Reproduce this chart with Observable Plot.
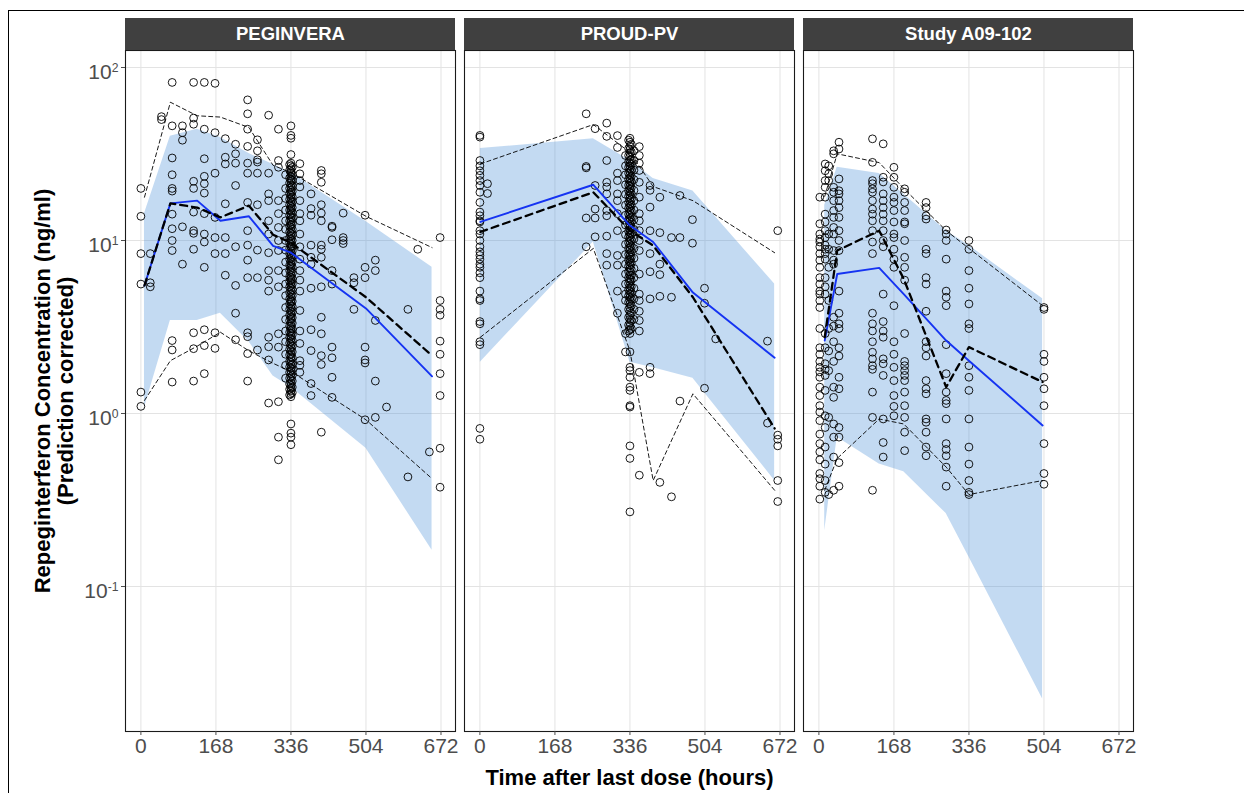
<!DOCTYPE html>
<html>
<head>
<meta charset="utf-8">
<script src="https://cdn.jsdelivr.net/npm/d3@7"></script>
<script src="https://cdn.jsdelivr.net/npm/@observablehq/plot@0.6"></script>
<style>
  html, body { margin: 0; padding: 0; background: white; overflow: hidden; }
  #outer { position: absolute; left: 8px; top: 10px; width: 1400px; height: 1000px; border: 1px solid #000; z-index: 2; pointer-events: none; }
  #chart { position: absolute; left: 0; top: 0; z-index: 1; }
</style>
</head>
<body>
<div id="outer"></div>
<div id="chart"></div>
<script>
// ---------------- DATA ----------------
const studies = ["PEGINVERA", "PROUD-PV", "Study A09-102"];
const xTicks = [0, 168, 336, 504, 672];
const yTicks = [0.1, 1, 10, 100];
const yTitle = "Repeginterferon Concentration (ng/ml)\n(Prediction corrected)";
const xTitle = "Time after last dose (hours)";

// observed (prediction-corrected) concentrations, grouped by time (h)
const obsPEG = [
  [0, [20, 13.8, 8.4, 5.6, 1.33, 1.1]],
  [21, [8.4, 5.7, 5.4]],
  [46, [52, 50]],
  [70, [82, 46, 30, 24, 20, 19.3, 14.2, 11.7, 10, 8.75, 2.64, 2.33, 1.52]],
  [93, [46, 42, 38, 12, 7.3]],
  [118, [82, 51, 47, 22, 20, 14.6, 11.4, 11.0, 8.9, 2.93, 2.37, 1.54]],
  [142, [82, 44, 29.7, 23.5, 21.3, 18.8, 14.3, 10.9, 9.8, 7.0, 3.05, 2.47, 1.7]],
  [166, [81, 42, 24.5, 13.6, 10.4, 8.4, 2.93, 2.38]],
  [189, [38.8, 30.3, 27.7, 16.3, 10.4, 8.4, 6.3]],
  [212, [36, 31.7, 28, 20.8, 9.2, 5.5, 3.8, 2.67]],
  [239, [65, 54, 44, 35, 28, 24.5, 16.6, 11.4, 9.4, 7.7, 6.1, 2.93, 2.78, 2.22, 1.54]],
  [261, [38.2, 33, 29.3, 28.4, 24.5, 16.1, 8.8, 6.1, 2.33]],
  [286, [53, 24.5, 18.6, 17, 13, 10.9, 8.5, 6.7, 5.9, 5.1, 2.76, 2.43, 2.04, 1.15]],
  [308, [44, 29, 26.5, 17, 14.3, 11.9, 10, 8.75, 6.7, 5.4, 2.89, 2.42, 1.17, 0.73, 0.54]],
  [324, [24, 20, 17.5, 15, 13, 11.6, 10, 8.8, 7.5, 6.5, 5.6, 4.8, 4.1, 3.5, 3.0, 2.6, 2.2, 1.9, 1.6]],
  [333, [27.5, 25.5, 23, 21.5, 20, 18.6, 17.3, 16.1, 15, 14, 13, 12.1, 11.2, 10.4, 9.7, 9.0, 8.4, 7.8, 7.2,
         6.7, 6.2, 5.8, 5.4, 5.0, 4.6, 4.3, 4.0, 3.7, 3.45, 3.2, 2.95, 2.75, 2.55, 2.35, 2.18, 2.0, 1.86,
         1.73, 1.6, 1.48, 1.38, 1.28]],
  [336, [46, 40.5, 39, 31.4, 28, 27, 26, 25, 24.5, 23.5, 22.6, 22, 21, 20.3, 19.6, 19, 18.3, 17.6, 17, 16.4,
         15.8, 15.3, 14.8, 14.2, 13.7, 13.2, 12.8, 12.3, 11.9, 11.4, 11, 10.6, 10.2, 9.9, 9.5, 9.2, 8.9,
         8.5, 8.2, 7.9, 7.6, 7.3, 7.1, 6.8, 6.6, 6.3, 6.1, 5.9, 5.7, 5.5, 5.3, 5.1, 4.9, 4.7, 4.5, 4.4,
         4.2, 4.05, 3.9, 3.75, 3.6, 3.5, 3.35, 3.2, 3.1, 3.0, 2.9, 2.8, 2.7, 2.6, 2.5, 2.4, 2.3, 2.2,
         2.12, 2.05, 1.97, 1.9, 1.83, 1.76, 1.7, 1.63, 1.57, 1.5, 1.45, 1.4, 1.35, 1.3, 1.25,
         0.87, 0.77, 0.73, 0.66]],
  [339, [26.5, 24, 22.3, 20.7, 19.2, 17.9, 16.7, 15.5, 14.5, 13.5, 12.5, 11.6, 10.8, 10, 9.3, 8.7, 8.1, 7.5,
         7.0, 6.45, 6.0, 5.6, 5.2, 4.8, 4.45, 4.15, 3.85, 3.58, 3.33, 3.08, 2.85, 2.65, 2.45, 2.27, 2.1,
         1.93, 1.8, 1.66, 1.54, 1.42, 1.32]],
  [356, [27.8, 24.3, 22.2, 20.4, 17, 14.3, 13, 10.9, 9.2, 7.8, 6.7, 5.9, 5.1, 3.94, 3.0, 2.54, 2.02, 1.9, 1.73]],
  [381, [18.6, 15.3, 14, 9.4, 8.0, 7.3, 5.3, 3.05, 2.31, 1.49, 1.27]],
  [404, [25.4, 24.3, 21.7, 16.1, 14.4, 13, 9.4, 8.9, 8.0, 5.4, 3.6, 2.89, 2.16, 1.92, 0.78]],
  [428, [12.1, 11.9, 10.1, 6.7, 5.6, 2.42, 2.1, 1.62, 1.24]],
  [453, [14.4, 10.4, 10, 9.6]],
  [477, [6.1, 5.7, 4.0]],
  [502, [14, 7, 6.1, 2.42, 2.04, 1.96, 0.92]],
  [525, [7.7, 6.7, 3.45, 1.54, 0.95]],
  [550, [1.09]],
  [598, [4.0, 0.43]],
  [620, [8.9]],
  [646, [0.6]],
  [670, [10.4, 4.5, 4.0, 3.7, 2.62, 2.2, 1.7, 1.27, 0.63, 0.375]]
];

const obsPROUD = [
  [0, [40.5, 39.6, 29.0, 27, 25.3, 23.8, 22.2, 20.8, 19, 16.6, 14.6, 13.9, 13, 12.8, 11.4, 10.9, 10, 9.2,
       8.6, 8.2, 7.8, 7.3, 7.0, 6.5, 6.1, 5.1, 4.6, 4.5, 3.4, 3.3, 2.6, 2.5, 0.82, 0.71]],
  [17, [21.3, 18.7]],
  [238, [54, 26.8, 26.3, 13.5, 9.2]],
  [258, [44.3, 20.8, 15.2, 13.5, 10.5]],
  [284, [47.7, 40, 29, 21.7, 20.4, 18.6, 14.9, 13.9, 10.6, 8.4, 7.2]],
  [308, [40.4, 34.5, 24.5, 22.2, 18.6, 17, 14.3, 11.4, 8.2, 7.2, 5.1, 3.8]],
  [326, [31, 27, 24, 21, 18.5, 16, 14, 12.3, 10.8, 9.5, 8.3, 7.3, 6.4, 5.6, 4.9, 4.5, 2.9, 2.27]],
  [333, [38, 34, 31, 28.5, 26.5, 24.5, 22.6, 20.9, 19.4, 18, 16.6, 15.4, 14.2, 13.2, 12.2, 11.3, 10.5, 9.7,
         9.0, 8.3, 7.7, 7.1, 6.6, 6.1, 5.65, 5.2, 4.8, 4.4, 4.0, 3.6, 3.25, 3.0]],
  [336, [39, 37, 35, 33.5, 32, 30.5, 29, 28, 27, 26, 25, 24, 23, 22.2, 21.4, 20.6, 19.8, 19, 18.3, 17.6,
         17, 16.3, 15.7, 15.1, 14.5, 14, 13.4, 12.9, 12.4, 12, 11.5, 11.1, 10.7, 10.3, 9.9, 9.5, 9.1, 8.8,
         8.4, 8.1, 7.8, 7.5, 7.2, 6.9, 6.6, 6.3, 6.0, 5.8, 5.5, 5.3, 5.1, 4.9, 4.7, 4.5, 4.3, 4.1, 3.9,
         3.7, 3.5, 3.35, 3.2, 3.05, 2.9, 2.27, 1.85, 1.77, 1.62, 1.42, 1.36, 1.11, 1.09, 0.65, 0.55, 0.27]],
  [339, [36, 32.5, 29.5, 27.5, 25.5, 23.5, 21.8, 20.2, 18.7, 17.3, 16, 14.8, 13.7, 12.7, 11.8, 10.9, 10.1,
         9.3, 8.6, 8.0, 7.4, 6.8, 6.3, 5.9, 5.4, 5.0, 4.6, 4.2, 3.8, 3.45, 3.1]],
  [345, [33, 29, 25.5, 22.5, 19.5, 17, 15, 13.2, 11.6, 10.2, 9, 7.9, 6.9, 6.1, 5.3, 4.6, 4.0, 3.5]],
  [357, [34.9, 31, 28, 25.4, 21.7, 17.8, 14.3, 13, 11.4, 10, 8.75, 6.4, 4.9, 4.5, 3.9, 3.45, 3.0, 1.73, 0.44]],
  [381, [20.8, 19.5, 15.6, 11.4, 8.4, 6.6, 4.6, 1.85, 1.7]],
  [403, [17.8, 11.1, 7.3, 6.35, 4.76, 0.40]],
  [429, [10.4, 4.7, 0.33]],
  [448, [18.2, 10.4, 1.18]],
  [476, [13.2, 9.65]],
  [503, [5.3, 4.34, 1.4]],
  [528, [2.7]],
  [644, [2.62, 0.88]],
  [667, [11.4, 0.75, 0.71, 0.65, 0.41, 0.31]]
];

const obsA09 = [
  [2, [17.8, 12.5, 10.9, 10.2, 9.8, 9.2, 8.4, 7.7, 7.0, 6.1, 5.6, 5.1, 4.9, 4.5, 4.1, 3.1, 2.4, 2.2, 2.0,
       1.85, 1.74, 1.62, 1.42, 1.27, 1.11, 1.02, 0.91, 0.76, 0.67, 0.6, 0.54, 0.45, 0.42, 0.38, 0.32]],
  [14, [27.7, 25.3, 22.2, 20.3, 17.8, 14.2, 12.8, 11.4, 10.4, 9.4, 8.9, 8.4, 7.8, 6.1, 5.4, 4.9, 2.9, 2.4,
        1.94, 1.8, 1.66, 1.36, 0.97, 0.83, 0.64, 0.51, 0.41, 0.35]],
  [22, [27, 24.3, 22.2, 10.9, 8.9, 7.0, 4.5, 3.1, 2.3, 1.77, 0.95, 0.34]],
  [33, [33, 31.7, 20.3, 19, 17, 14.9, 13.6, 11.9, 10.9, 8.75, 7.7, 7.3, 3.6, 3.2, 2.6, 2.0, 1.42, 1.24,
        0.87, 0.73, 0.56, 0.36]],
  [45, [37, 33.8, 22.7, 19.4, 18.6, 17, 15.5, 13.6, 11.4, 10, 8.75, 5.1, 3.8, 3.3, 3.1, 2.4, 2.15, 1.62,
        1.39, 0.83, 0.73, 0.52, 0.38]],
  [120, [38.7, 28.3, 22.2, 21.3, 19.9, 19, 17, 15.2, 14.2, 13, 11.4, 9.8, 8.4, 3.8, 3.3, 3.0, 2.6, 2.26,
         2.07, 1.89, 1.8, 1.33, 0.95, 0.36]],
  [144, [36.2, 23.2, 21.8, 18.6, 17, 15.5, 14.2, 13, 11.4, 10, 9.2, 4.9, 3.4, 3.0, 2.76, 2.07, 1.94, 1.66,
         0.93, 0.68, 0.56]],
  [168, [26.5, 23.2, 20.3, 17.8, 16.6, 14.9, 12.8, 10.9, 10.4, 8.9, 7.8, 7.0, 4.2, 2.6, 2.2, 1.85, 1.55,
         1.27, 1.1, 0.97]],
  [192, [19.9, 19, 16.6, 14.9, 12.8, 12.5, 10, 8.0, 7.0, 5.9, 2.9, 2.0, 1.89, 1.77, 1.66, 1.55, 1.33,
         1.11, 0.95, 0.78, 0.61]],
  [240, [16.6, 15.5, 13.9, 13.3, 8.9, 8.4, 6.1, 5.6, 3.9, 2.6, 2.4, 2.15, 1.55, 1.39, 1.3, 0.93, 0.89,
         0.78, 0.64, 0.57]],
  [285, [11.5, 10.9, 10, 7.8, 5.1, 4.7, 4.2, 2.5, 1.7, 1.33, 1.19, 1.14, 0.93, 0.67, 0.62, 0.57, 0.49, 0.38]],
  [336, [10, 8.9, 6.7, 5.3, 4.3, 3.3, 3.1, 1.89, 1.62, 1.36, 0.93, 0.64, 0.51, 0.41, 0.35, 0.34]],
  [504, [4.1, 4.0, 2.2, 2.0, 1.62, 1.39, 1.11, 0.67, 0.45, 0.39]]
];

// binned VPC summaries: bin times (h) and values (ng/ml)
const binsPEG     = [8, 66, 126, 178, 242, 296, 336, 504, 652];
const simMedPEG   = [5.5, 16.4, 17.0, 13.0, 13.8, 9.3, 8.5, 4.05, 1.64];
const obsMedPEG   = [5.5, 16.4, 15.5, 13.6, 15.9, 10.8, 9.7, 4.7, 2.16];
const obsHiPEG    = [17.8, 63, 52.6, 51.7, 45, 27.2, 24.7, 13.8, 9.1];
const obsLoPEG    = [1.19, 2.02, 2.45, 2.95, 2.3, 1.95, 1.75, 0.92, 0.42];
const piHiPEG     = [14.3, 40, 44, 39.4, 31.8, 27.5, 24.7, 12.9, 7.0];
const piLoPEG     = [1.08, 3.45, 3.45, 3.8, 2.6, 1.65, 1.42, 0.63, 0.162];

const binsPROUD   = [1, 254, 336, 388, 477, 660];
const simMedPROUD = [12.8, 21, 12.2, 9.8, 5.0, 2.1];
const obsMedPROUD = [11.2, 19.0, 11.4, 9.35, 4.7, 0.82];
const obsHiPROUD  = [27.7, 46.8, 32.3, 20.5, 17, 8.5];
const obsLoPROUD  = [2.76, 9.0, 2.3, 0.41, 1.3, 0.36];
const piHiPROUD   = [34, 38.7, 29, 22.8, 19.3, 5.6];
const piLoPROUD   = [1.98, 9.8, 1.98, 1.84, 1.6, 0.41];

const binsA09     = [13, 41, 135, 190, 285, 336, 501];
const simMedA09   = [2.64, 6.4, 6.95, 4.9, 2.64, 2.02, 0.853];
const obsMedA09   = [2.76, 8.75, 11.4, 6.0, 1.42, 2.42, 1.52];
const obsHiA09    = [18, 31.7, 28.2, 20, 11.4, 9, 4.2];
const obsLoA09    = [0.36, 0.55, 0.93, 0.87, 0.49, 0.34, 0.41];
const piHiA09     = [16, 26.5, 24.4, 18.5, 11.4, 9.35, 4.6];
const piLoA09     = [0.21, 0.73, 0.51, 0.46, 0.264, 0.148, 0.0224];

// ---------------- TABLES ----------------
function expand(study, cols) {
  const out = [];
  for (const [t, cs] of cols) for (const c of cs) out.push({study, t, c});
  return out;
}
const obsRows = [
  ...expand(studies[0], obsPEG),
  ...expand(studies[1], obsPROUD),
  ...expand(studies[2], obsA09)
];
function summary(study, bins, sm, om, oh, ol, ph, pl) {
  return bins.map((t, i) => ({study, t, sm: sm[i], om: om[i], oh: oh[i], ol: ol[i], ph: ph[i], pl: pl[i]}));
}
const binRows = [
  ...summary(studies[0], binsPEG, simMedPEG, obsMedPEG, obsHiPEG, obsLoPEG, piHiPEG, piLoPEG),
  ...summary(studies[1], binsPROUD, simMedPROUD, obsMedPROUD, obsHiPROUD, obsLoPROUD, piHiPROUD, piLoPROUD),
  ...summary(studies[2], binsA09, simMedA09, obsMedA09, obsHiA09, obsLoA09, piHiA09, piLoA09)
];
const stripRows = studies.map(s => ({study: s}));

// ---------------- LAYOUT ----------------
const W = 1244, H = 793, mL = 125, mR = 110, mT = 50, mB = 62;
const xDomain = [-34.5, 704.5];
const yDomain = [0.01452, 125.4];
const stripPx = 32;
const pxPerDecade = (H - mT - mB) / Math.log10(yDomain[1] / yDomain[0]);
const stripTop = yDomain[1] * Math.pow(10, stripPx / pxPerDecade);
const font = "'Liberation Sans', Arial, Helvetica, sans-serif";

const plot = Plot.plot({
  width: W, height: H,
  marginLeft: mL, marginRight: mR, marginTop: mT, marginBottom: mB,
  style: {fontFamily: font, background: "white", overflow: "visible"},
  fx: {domain: studies, axis: null, paddingInner: 0.0265, paddingOuter: 0},
  x: {domain: xDomain},
  y: {type: "log", domain: yDomain},
  marks: [
    Plot.gridX(xTicks, {stroke: "#e3e3e3", strokeOpacity: 1, strokeWidth: 1}),
    Plot.gridY(yTicks, {stroke: "#e3e3e3", strokeOpacity: 1, strokeWidth: 1}),
    Plot.areaY(binRows, {fx: "study", x: "t", y1: "pl", y2: "ph", fill: "#4a90d9", fillOpacity: 0.33}),
    Plot.dot(obsRows, {fx: "study", x: "t", y: "c", r: 3.9, fill: "none", stroke: "black", strokeWidth: 1, strokeOpacity: 0.9}),
    Plot.line(binRows, {fx: "study", x: "t", y: "oh", stroke: "black", strokeWidth: 0.9, strokeDasharray: "4,3"}),
    Plot.line(binRows, {fx: "study", x: "t", y: "ol", stroke: "black", strokeWidth: 0.9, strokeDasharray: "4,3"}),
    Plot.line(binRows, {fx: "study", x: "t", y: "sm", stroke: "#1533f2", strokeWidth: 1.9}),
    Plot.line(binRows, {fx: "study", x: "t", y: "om", stroke: "black", strokeWidth: 2.3, strokeDasharray: "7,5"}),
    Plot.frame({stroke: "#1a1a1a", strokeWidth: 1.1}),
    Plot.rect(stripRows, {fx: "study", x1: () => xDomain[0], x2: () => xDomain[1], y1: () => yDomain[1], y2: () => stripTop, fill: "#404040"}),
    Plot.text(stripRows, {fx: "study", text: "study", frameAnchor: "top", dy: -16, lineAnchor: "middle", fill: "white", fontWeight: "bold", fontSize: 18.5}),
    Plot.axisX({ticks: xTicks, tickSize: 4, tickPadding: 3, fontSize: 21, color: "#4d4d4d", label: null}),
    Plot.axisY({ticks: yTicks, tickSize: 4, tickPadding: 3, fontSize: 21, color: "#4d4d4d", label: null,
                tickFormat: d => "10^" + Math.round(Math.log10(d))}),
    Plot.text([{study: studies[0], label: yTitle}], {fx: "study", text: "label", frameAnchor: "left", rotate: -90, dx: -71,
               textAnchor: "middle", lineAnchor: "middle", fontWeight: "bold", fontSize: 22, lineHeight: 1.05, fill: "black"}),
    Plot.text([{study: studies[1], label: xTitle}], {fx: "study", text: "label", frameAnchor: "bottom", dy: 46, lineAnchor: "middle",
               textAnchor: "middle", fontWeight: "bold", fontSize: 22, fill: "black"})
  ]
});

// superscript exponents on the log axis labels
const ns = "http://www.w3.org/2000/svg";
plot.querySelectorAll('[aria-label="y-axis tick label"] text').forEach(text => {
  const s = text.textContent;
  if (!s.includes("^")) return;
  const [b, e] = s.split("^");
  text.textContent = "";
  const t1 = document.createElementNS(ns, "tspan"); t1.textContent = b;
  const t2 = document.createElementNS(ns, "tspan"); t2.textContent = e;
  t2.setAttribute("dy", "-0.6em"); t2.setAttribute("font-size", "0.58em");
  text.append(t1, t2);
  text.setAttribute("transform", (text.getAttribute("transform") || "") + " translate(0,5)");
});

document.getElementById("chart").appendChild(plot);
</script>
</body>
</html>
